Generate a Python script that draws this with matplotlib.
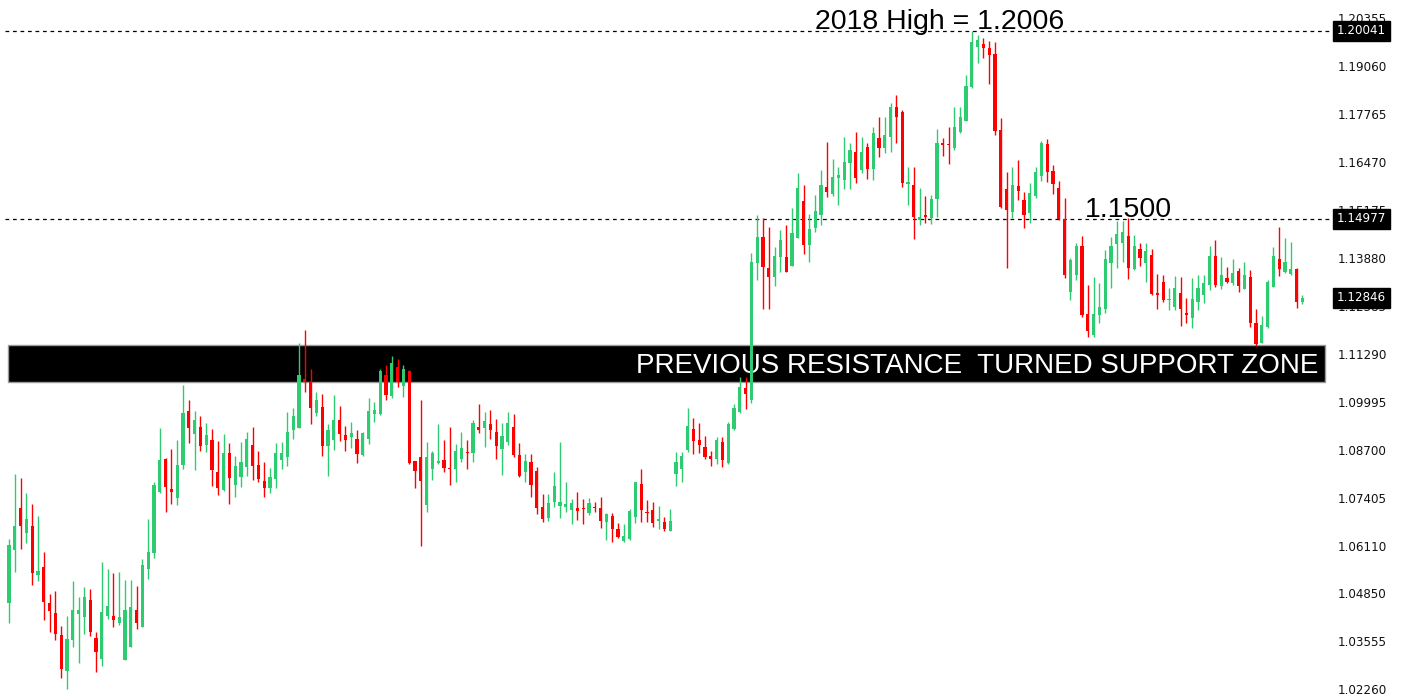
import numpy as np
import matplotlib
matplotlib.use("Agg")
import matplotlib.pyplot as plt

# ---------------- data (weekly candles) ----------------
opens = [
1.0463,1.0606,1.0719,1.0651,1.0670,1.0538,1.0560,1.0463,1.0436,1.0377,
1.0280,1.0363,1.0433,1.0425,1.0471,1.0369,1.0312,1.0428,1.0428,1.0409,
1.0309,1.0344,1.0444,1.0398,1.0554,1.0598,1.0762,1.0851,1.0770,1.0746,
1.0834,1.0980,1.0918,1.0937,1.0888,1.0902,1.0816,1.0767,1.0867,1.0781,
1.0802,1.0829,1.0888,1.0834,1.0791,1.0773,1.0797,1.0848,1.0856,1.0929,
1.0934,1.1066,1.1058,1.0975,1.0991,1.0886,1.0902,1.0956,1.0915,1.0910,
1.0905,1.0861,1.0905,1.0972,1.0972,1.1077,1.1020,1.1098,1.1047,1.1088,
1.0845,1.0856,1.0727,1.0824,1.0840,1.0848,1.0826,1.0824,1.0851,1.0870,
1.0867,1.0937,1.0934,1.0945,1.0923,1.0878,1.0896,1.0937,1.0861,1.0816,
1.0843,1.0818,1.0721,1.0692,1.0735,1.0724,1.0721,1.0713,1.0719,1.0719,
1.0705,1.0721,1.0719,1.0681,1.0697,1.0662,1.0630,1.0635,1.0694,1.0783,
1.0708,1.0713,1.0684,1.0681,1.0657,1.0810,1.0824,1.0875,1.0931,1.0902,
1.0883,1.0859,1.0851,1.0896,1.0840,1.0931,1.0977,1.1042,1.1010,1.1379,
1.1448,1.1365,1.1341,1.1395,1.1395,1.1370,1.1446,1.1545,1.1427,1.1473,
1.1508,1.1583,1.1564,1.1607,1.1602,1.1648,1.1677,1.1629,1.1691,1.1632,
1.1715,1.1688,1.1718,1.1799,1.1786,1.1591,1.1589,1.1494,1.1508,1.1500,
1.1551,1.1702,1.1699,1.1688,1.1731,1.1761,1.1852,1.1960,1.1968,1.1957,
1.1941,1.1737,1.1578,1.1516,1.1586,1.1548,1.1513,1.1559,1.1613,1.1699,
1.1626,1.1580,1.1497,1.1301,1.1347,1.1424,1.1241,1.1184,1.1239,1.1255,
1.1379,1.1430,1.1432,1.1451,1.1362,1.1416,1.1379,1.1400,1.1298,1.1327,
1.1279,1.1260,1.1298,1.1244,1.1230,1.1273,1.1293,1.1320,1.1397,1.1317,
1.1338,1.1325,1.1357,1.1309,1.1341,1.1217,1.1164,1.1206,1.1314,1.1389,
1.1354,1.1349,1.1362,1.1273]

highs = [
1.0635,1.0810,1.0800,1.0759,1.0729,1.0697,1.0600,1.0487,1.0495,1.0401,
1.0428,1.0522,1.0479,1.0506,1.0501,1.0385,1.0573,1.0554,1.0544,1.0546,
1.0525,1.0525,1.0509,1.0581,1.0689,1.0789,1.0934,1.0853,1.0878,1.0902,
1.1050,1.1010,1.0980,1.0966,1.0948,1.0931,1.0899,1.0918,1.0894,1.0859,
1.0896,1.0923,1.0937,1.0872,1.0843,1.0826,1.0894,1.0896,1.0977,1.0988,
1.1163,1.1198,1.1093,1.1031,1.1026,1.0945,1.1023,1.0993,1.0939,1.0950,
1.0929,1.0923,1.1015,1.1004,1.1093,1.1104,1.1128,1.1120,1.1104,1.1090,
1.0845,1.1010,1.0896,1.0872,1.0945,1.0902,1.0937,1.0891,1.0923,1.0902,
1.0956,1.0999,1.0977,1.0983,1.0958,1.0948,1.0977,1.0972,1.0894,1.0864,
1.0864,1.0829,1.0756,1.0756,1.0816,1.0896,1.0789,1.0743,1.0762,1.0743,
1.0746,1.0735,1.0748,1.0705,1.0705,1.0678,1.0676,1.0716,1.0770,1.0824,
1.0740,1.0735,1.0724,1.0695,1.0716,1.0870,1.0870,1.0988,1.0961,1.0948,
1.0913,1.0872,1.0910,1.0910,1.0950,1.0999,1.1071,1.1071,1.1405,1.1508,
1.1500,1.1475,1.1422,1.1467,1.1481,1.1527,1.1621,1.1589,1.1510,1.1562,
1.1629,1.1704,1.1659,1.1637,1.1718,1.1702,1.1731,1.1718,1.1702,1.1745,
1.1772,1.1772,1.1809,1.1831,1.1791,1.1637,1.1637,1.1580,1.1559,1.1562,
1.1739,1.1715,1.1745,1.1799,1.1799,1.1885,1.2004,1.1993,1.1984,1.1976,
1.1974,1.1769,1.1624,1.1637,1.1656,1.1570,1.1594,1.1637,1.1707,1.1713,
1.1642,1.1599,1.1554,1.1392,1.1432,1.1451,1.1319,1.1341,1.1325,1.1414,
1.1448,1.1492,1.1492,1.1500,1.1454,1.1432,1.1432,1.1416,1.1349,1.1346,
1.1311,1.1343,1.1341,1.1284,1.1338,1.1346,1.1346,1.1424,1.1440,1.1395,
1.1368,1.1389,1.1365,1.1381,1.1360,1.1255,1.1236,1.1333,1.1422,1.1475,
1.1446,1.1435,1.1365,1.1292]

lows = [
1.0409,1.0546,1.0608,1.0624,1.0511,1.0522,1.0417,1.0385,1.0363,1.0261,
1.0231,1.0344,1.0301,1.0379,1.0374,1.0277,1.0293,1.0420,1.0398,1.0404,
1.0309,1.0344,1.0393,1.0398,1.0528,1.0584,1.0759,1.0708,1.0729,1.0727,
1.0824,1.0894,1.0821,1.0872,1.0870,1.0778,1.0754,1.0764,1.0729,1.0748,
1.0775,1.0805,1.0794,1.0789,1.0748,1.0759,1.0773,1.0824,1.0832,1.0905,
1.0953,1.1031,1.0945,1.0966,1.0859,1.0805,1.0875,1.0899,1.0872,1.0880,
1.0840,1.0859,1.0891,1.0950,1.0969,1.1010,1.1015,1.1045,1.1018,1.0837,
1.0773,1.0616,1.0708,1.0794,1.0837,1.0816,1.0781,1.0789,1.0843,1.0824,
1.0843,1.0921,1.0883,1.0905,1.0851,1.0808,1.0888,1.0856,1.0802,1.0789,
1.0748,1.0703,1.0681,1.0684,1.0721,1.0692,1.0708,1.0676,1.0686,1.0676,
1.0700,1.0708,1.0665,1.0633,1.0627,1.0638,1.0627,1.0633,1.0678,1.0681,
1.0681,1.0668,1.0662,1.0657,1.0657,1.0778,1.0789,1.0870,1.0864,1.0867,
1.0851,1.0832,1.0837,1.0829,1.0837,1.0929,1.0975,1.0985,1.1001,1.1333,
1.1255,1.1255,1.1317,1.1354,1.1354,1.1370,1.1446,1.1403,1.1381,1.1462,
1.1481,1.1556,1.1559,1.1535,1.1577,1.1577,1.1594,1.1621,1.1605,1.1602,
1.1664,1.1675,1.1677,1.1702,1.1583,1.1535,1.1443,1.1481,1.1486,1.1484,
1.1502,1.1667,1.1645,1.1683,1.1729,1.1761,1.1850,1.1917,1.1931,1.1860,
1.1723,1.1527,1.1365,1.1500,1.1548,1.1473,1.1486,1.1554,1.1599,1.1597,
1.1564,1.1494,1.1338,1.1279,1.1333,1.1233,1.1179,1.1179,1.1217,1.1244,
1.1311,1.1365,1.1381,1.1335,1.1360,1.1370,1.1327,1.1293,1.1255,1.1273,
1.1252,1.1252,1.1208,1.1217,1.1203,1.1252,1.1271,1.1306,1.1314,1.1309,
1.1325,1.1320,1.1300,1.1309,1.1206,1.1156,1.1164,1.1203,1.1314,1.1343,
1.1352,1.1346,1.1257,1.1268]

closes = [
1.0619,1.0670,1.0670,1.0689,1.0544,1.0549,1.0466,1.0441,1.0379,1.0285,
1.0366,1.0444,1.0444,1.0479,1.0385,1.0331,1.0439,1.0455,1.0417,1.0425,
1.0444,1.0452,1.0409,1.0565,1.0600,1.0781,1.0848,1.0775,1.0762,1.0834,
1.0975,1.0934,1.0956,1.0886,1.0915,1.0821,1.0773,1.0867,1.0800,1.0832,
1.0843,1.0905,1.0832,1.0797,1.0773,1.0802,1.0867,1.0867,1.0923,1.0966,
1.1077,1.1058,1.0988,1.1010,1.0886,1.0929,1.0956,1.0918,1.0902,1.0921,
1.0864,1.0921,1.0980,1.0983,1.1088,1.1023,1.1109,1.1058,1.1093,1.0840,
1.0818,1.0791,1.0856,1.0867,1.0845,1.0826,1.0824,1.0872,1.0880,1.0867,
1.0948,1.0929,1.0953,1.0929,1.0886,1.0913,1.0948,1.0861,1.0805,1.0845,
1.0781,1.0719,1.0689,1.0732,1.0778,1.0735,1.0729,1.0732,1.0711,1.0716,
1.0732,1.0719,1.0684,1.0703,1.0662,1.0641,1.0643,1.0711,1.0789,1.0713,
1.0705,1.0678,1.0689,1.0662,1.0684,1.0843,1.0859,1.0939,1.0899,1.0888,
1.0856,1.0851,1.0902,1.0848,1.0945,1.0988,1.1045,1.1026,1.1381,1.1448,
1.1368,1.1341,1.1397,1.1440,1.1354,1.1459,1.1580,1.1427,1.1470,1.1518,
1.1589,1.1570,1.1610,1.1615,1.1650,1.1683,1.1607,1.1677,1.1632,1.1729,
1.1688,1.1723,1.1799,1.1772,1.1594,1.1597,1.1502,1.1502,1.1502,1.1551,
1.1702,1.1696,1.1696,1.1745,1.1772,1.1855,1.1974,1.1979,1.1957,1.1939,
1.1734,1.1529,1.1521,1.1589,1.1572,1.1508,1.1567,1.1624,1.1702,1.1624,
1.1591,1.1497,1.1347,1.1387,1.1424,1.1239,1.1195,1.1241,1.1260,1.1389,
1.1424,1.1456,1.1462,1.1365,1.1424,1.1392,1.1411,1.1295,1.1293,1.1279,
1.1281,1.1311,1.1255,1.1239,1.1281,1.1311,1.1325,1.1397,1.1320,1.1346,
1.1327,1.1352,1.1317,1.1346,1.1217,1.1159,1.1211,1.1327,1.1397,1.1362,
1.1381,1.1362,1.1273,1.1285]

price_ticks = [1.20355, 1.19060, 1.17765, 1.16470, 1.15175, 1.13880, 1.12585,
               1.11290, 1.09995, 1.08700, 1.07405, 1.06110, 1.04850, 1.03555, 1.02260]
tick_labels = ["1.20355", "1.19060", "1.17765", "1.16470", "1.15175", "1.13880", "1.12585",
               "1.11290", "1.09995", "1.08700", "1.07405", "1.06110", "1.04850", "1.03555", "1.02260"]

level_lines = [1.20041, 1.14977]          # dashed horizontal levels
level_labels = ["1.20041", "1.14977"]
last_price = 1.12846
last_label = "1.12846"

HIGH_2018 = 1.2006
ROUND_LEVEL = 1.1500
ZONE_LOW, ZONE_HIGH = 1.1058, 1.1158

# ---------------- figure ----------------
W, H = 1404, 700
PLOT_W = 1330
CANDLE_PX = 5.8
FIRST_PX = 9.0
Y_TOP, Y_BOT = 1.20867, 1.02016

GREEN = "#2ecc71"
RED = "#ff0000"

fig = plt.figure(figsize=(W / 100, H / 100), dpi=100)
fig.patch.set_facecolor("white")
ax = fig.add_axes([0, 0, PLOT_W / W, 1])
ax.set_xlim(-FIRST_PX / CANDLE_PX, (PLOT_W - FIRST_PX) / CANDLE_PX)
ax.set_ylim(Y_BOT, Y_TOP)
ax.axis("off")

o = np.array(opens); h = np.array(highs); l = np.array(lows); c = np.array(closes)
x = np.arange(len(o))
up = c >= o
cols = np.where(up, GREEN, RED)

# support zone band
ax.axhspan(ZONE_LOW, ZONE_HIGH, xmin=8 / PLOT_W, xmax=1325 / PLOT_W,
           facecolor="black", edgecolor="#9a9a9a", linewidth=1.0, zorder=1)
ytrans = ax.get_yaxis_transform()
ax.text(1318 / PLOT_W, (ZONE_LOW + ZONE_HIGH) / 2 - 0.0008, "PREVIOUS RESISTANCE  TURNED SUPPORT ZONE",
        transform=ytrans, ha="right", va="center", color="white",
        fontsize=20, family="Liberation Sans", zorder=2)

# dashed levels
for lv in level_lines:
    ax.axhline(lv, xmin=5 / PLOT_W, xmax=1.0, color="black", linewidth=0.9,
               linestyle=(0, (3, 3)), zorder=2)

# candles
top = np.maximum(h, np.maximum(o, c))
bot = np.minimum(l, np.minimum(o, c))
ax.vlines(x, bot, top, colors=cols, linewidth=1.0, zorder=3)
body_bottom = np.minimum(o, c)
body_h = np.maximum(np.abs(c - o), 0.0003)
ax.bar(x, body_h, bottom=body_bottom, width=0.58, color=cols, linewidth=0, zorder=4)

# annotations
ax.text(940 / PLOT_W, HIGH_2018 + 0.0002, "2018 High = 1.2006", transform=ytrans,
        ha="center", va="baseline", fontsize=20.5, family="Liberation Sans",
        color="black", zorder=5)
ax.text(1128 / PLOT_W, ROUND_LEVEL + 0.0002, "1.1500", transform=ytrans,
        ha="center", va="baseline", fontsize=20.5, family="Liberation Sans",
        color="black", zorder=5)

# right price scale
for v, s in zip(price_ticks, tick_labels):
    ax.text(1338 / PLOT_W, v, s, transform=ytrans, ha="left", va="center",
            fontsize=8.6, family="DejaVu Sans", color="#111111", clip_on=False, zorder=5)

for v, s in list(zip(level_lines, level_labels)) + [(last_price, last_label)]:
    ax.text(1337 / PLOT_W, v, s, transform=ytrans, ha="left", va="center",
            fontsize=8.6, family="DejaVu Sans", color="white", clip_on=False, zorder=6,
            bbox=dict(boxstyle="square,pad=0.3", facecolor="black", edgecolor="black"))

fig.savefig("out.png", dpi=100, facecolor="white")
